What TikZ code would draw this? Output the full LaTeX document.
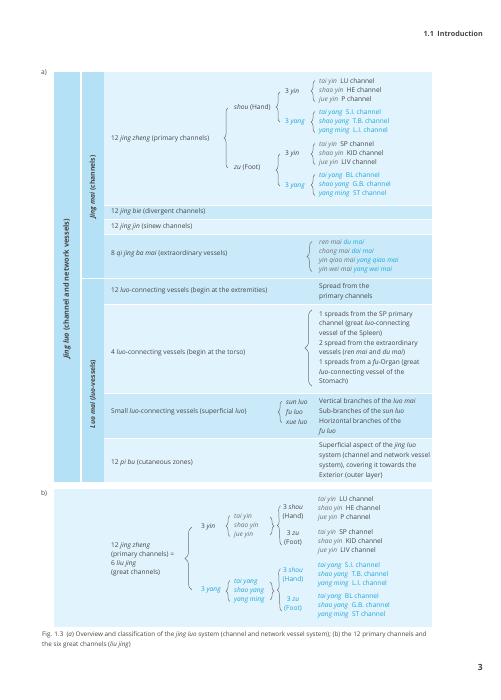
\documentclass[tikz,border=0pt]{standalone}
\usepackage{fontspec}
\setmainfont{Open Sans}
\usepackage{xcolor}
\usetikzlibrary{decorations.pathreplacing, positioning}
\definecolor{inkgray}{HTML}{454545}
\definecolor{namegray}{HTML}{707070}
\definecolor{yangblue}{HTML}{1FA6D8}
\definecolor{colbg}{HTML}{B5E1F6}
\definecolor{rowdark}{HTML}{CAEAF9}
\definecolor{rowlight}{HTML}{E1F3FC}
\newcommand{\chname}[1]{\textcolor{namegray}{\textit{#1}}}

\begin{document}
\begin{tikzpicture}[x=1pt, y=-1pt, every node/.style={inner sep=1pt, text=inkgray, font=\fontsize{6.6}{9}\selectfont}]
    \tikzstyle{txt} = [anchor=west]
    \tikzstyle{lst} = [anchor=west, align=left]
    \tikzstyle{desc} = [anchor=west, align=left, font=\fontsize{6.6}{9.7}\selectfont]
    \tikzstyle{yang} = [text=yangblue]
    \tikzstyle{side} = [rotate=90, font=\bfseries\fontsize{6.8}{8}\selectfont]
    \tikzstyle{brc} = [draw=namegray, line width=0.5pt, decorate, decoration={brace, amplitude=4pt}]
    \tikzstyle{sep} = [draw=white, line width=0.6pt]

    \useasboundingbox (0,0) rectangle (500,700);

    \node [anchor=east, font=\bfseries\fontsize{7.2}{9}\selectfont] (head) at (484,34) {1.1\enspace Introduction};

    % (a) table
    \node [txt] (lbla) at (40,73) {a)};
    \fill [colbg] (54,72) rectangle (80,482);
    \fill [colbg] (81.5,72) rectangle (104,482);
    \foreach \ya/\yb/\rowc in {72/205/rowlight, 205/219/rowdark, 219/234/rowlight, 234/278.5/rowdark,
                               278.5/304/rowdark, 304/393/rowlight, 393/438/rowdark, 438/482/rowlight}
        \fill [\rowc] (104,\ya) rectangle (432,\yb);
    \foreach \y in {205,219,234,304,393,438}
        \draw [sep] (104,\y) -- (432,\y);
    \draw [sep, line width=1.3pt] (81.5,278.5) -- (432,278.5);
    \draw [sep, line width=1.5pt] (80.75,72) -- (80.75,482);

    \node [side, font=\bfseries\fontsize{7.4}{8}\selectfont] (jingluo) at (67,289) {\textit{Jing luo} (channel and network vessels)};
    \node [side] (jingmai) at (93,187) {\textit{Jing mai} (channels)};
    \node [side] (luomai) at (93,394) {\textit{Luo mai} (\textit{luo}-vessels)};

    \node [txt] (zheng) at (110,139) {12 \textit{jing zheng} (primary channels)};
    \node [txt] (shou) at (233,108) {\textit{shou} (Hand)};
    \node [txt] (zu) at (233,168) {\textit{zu} (Foot)};
    \node [txt] (shouyin) at (284,92) {3 \textit{yin}};
    \node [txt, yang] (shouyang) at (284,122) {3 \textit{yang}};
    \node [txt] (zuyin) at (284,154) {3 \textit{yin}};
    \node [txt, yang] (zuyang) at (284,186) {3 \textit{yang}};
    \node [lst] (shouyinl) at (318,91) {\chname{tai yin}\enspace LU channel\\\chname{shao yin}\enspace HE channel\\\chname{jue yin}\enspace P channel};
    \node [lst, yang] (shouyangl) at (318,122) {\textit{tai yang}\enspace S.I. channel\\\textit{shao yang}\enspace T.B. channel\\\textit{yang ming}\enspace L.I. channel};
    \node [lst] (zuyinl) at (318,154) {\chname{tai yin}\enspace SP channel\\\chname{shao yin}\enspace KID channel\\\chname{jue yin}\enspace LIV channel};
    \node [lst, yang] (zuyangl) at (318,185) {\textit{tai yang}\enspace BL channel\\\textit{shao yang}\enspace G.B. channel\\\textit{yang ming}\enspace ST channel};

    \draw [brc] ([xshift=-5pt]zu.west) -- ([xshift=-5pt]shou.west);
    \draw [brc] ([xshift=-4pt]shouyang.west) -- ([xshift=-4pt]shouyin.west);
    \draw [brc] ([xshift=-4pt]zuyang.west) -- ([xshift=-4pt]zuyin.west);
    \foreach \n in {shouyinl, shouyangl, zuyinl, zuyangl}
        \draw [brc] ([xshift=-3pt, yshift=3pt]\n.south west) -- ([xshift=-3pt, yshift=-3pt]\n.north west);

    \node [txt] (bie) at (110,212) {12 \textit{jing bie} (divergent channels)};
    \node [txt] (jin) at (110,226.5) {12 \textit{jing jin} (sinew channels)};

    \node [txt] (qijing) at (110,254) {8 \textit{qi jing ba mai} (extraordinary vessels)};
    \node [lst] (qijingl) at (318,256.5) {\chname{ren mai} \textcolor{yangblue}{\textit{du mai}}\\\chname{chong mai} \textcolor{yangblue}{\textit{dai mai}}\\\chname{yin qiao mai} \textcolor{yangblue}{\textit{yang qiao mai}}\\\chname{yin wei mai} \textcolor{yangblue}{\textit{yang wei mai}}};
    \draw [brc, decoration={amplitude=5pt}] ([xshift=-6pt, yshift=3pt]qijingl.south west) -- ([xshift=-6pt, yshift=-3pt]qijingl.north west);

    \node [txt] (luoext) at (110,291) {12 \textit{luo}-connecting vessels (begin at the extremities)};
    \node [desc] (luoextd) at (318,291.5) {Spread from the\\primary channels};

    \node [txt] (luotorso) at (110,353) {4 \textit{luo}-connecting vessels (begin at the torso)};
    \node [desc] (luotorsod) at (318,348) {1 spreads from the SP primary\\channel (great \textit{luo}-connecting\\vessel of the Spleen)\\2 spread from the extraordinary\\vessels (\textit{ren mai} and \textit{du mai})\\1 spreads from a \textit{fu}-Organ (great\\\textit{luo}-connecting vessel of the\\Stomach)};
    \draw [brc, decoration={amplitude=7pt}] ([xshift=-6pt]luotorsod.south west) -- ([xshift=-6pt]luotorsod.north west);

    \node [txt] (small) at (110,412) {Small \textit{luo}-connecting vessels (superficial \textit{luo})};
    \node [lst, font=\fontsize{6.6}{10}\selectfont] (smalll) at (285,412) {\textit{sun luo}\\\textit{fu luo}\\\textit{xue luo}};
    \node [desc, font=\fontsize{6.6}{10}\selectfont] (smalld) at (318,417) {Vertical branches of the \textit{luo mai}\\Sub-branches of the \textit{sun luo}\\Horizontal branches of the\\\textit{fu luo}};
    \draw [brc] ([xshift=-3pt, yshift=3pt]smalll.south west) -- ([xshift=-3pt, yshift=-3pt]smalll.north west);

    \node [txt] (pibu) at (110,463) {12 \textit{pi bu} (cutaneous zones)};
    \node [desc, font=\fontsize{6.6}{10}\selectfont] (pibud) at (318,461) {Superficial aspect of the \textit{jing luo}\\system (channel and network vessel\\system), covering it towards the\\Exterior (outer layer)};

    % (b) the twelve primary channels
    \node [txt] (lblb) at (40,494) {b)};
    \fill [rowlight] (54,489) rectangle (432,627);

    \node [lst] (bzheng) at (110,559.5) {12 \textit{jing zheng}\\(primary channels) =\\6 \textit{liu jing}\\(great channels)};
    \node [txt] (byin) at (200,527) {3 \textit{yin}};
    \node [txt, yang] (byang) at (200,590) {3 \textit{yang}};
    \draw [brc, decoration={amplitude=7pt}] ([xshift=-8pt]byang.west) -- ([xshift=-8pt]byin.west);

    \node [lst] (byinl) at (233,526) {\chname{tai yin}\\\chname{shao yin}\\\chname{jue yin}};
    \node [lst, yang] (byangl) at (233,591) {\textit{tai yang}\\\textit{shao yang}\\\textit{yang ming}};
    \node [align=center] (byinh) at (293,512.5) {3 \textit{shou}\\(Hand)};
    \node [align=center] (byinf) at (293,538.5) {3 \textit{zu}\\(Foot)};
    \node [align=center, yang] (byangh) at (293,575.5) {3 \textit{shou}\\(Hand)};
    \node [align=center, yang] (byangf) at (293,604.5) {3 \textit{zu}\\(Foot)};

    \node [lst] (bl1) at (317,509) {\chname{tai yin}\enspace LU channel\\\chname{shao yin}\enspace HE channel\\\chname{jue yin}\enspace P channel};
    \node [lst] (bl2) at (317,542) {\chname{tai yin}\enspace SP channel\\\chname{shao yin}\enspace KID channel\\\chname{jue yin}\enspace LIV channel};
    \node [lst, yang] (bl3) at (317,575) {\textit{tai yang}\enspace S.I. channel\\\textit{shao yang}\enspace T.B. channel\\\textit{yang ming}\enspace L.I. channel};
    \node [lst, yang] (bl4) at (317,606) {\textit{tai yang}\enspace BL channel\\\textit{shao yang}\enspace G.B. channel\\\textit{yang ming}\enspace ST channel};

    \foreach \n in {byinl, byangl}
        \draw [brc] ([xshift=-3pt, yshift=3pt]\n.south west) -- ([xshift=-3pt, yshift=-3pt]\n.north west);
    \draw [brc] (270,517) -- (270,535);
    \draw [brc] (270,582) -- (270,600);
    \draw [brc] ([xshift=-1pt, yshift=2pt]byinf.south west) -- ([xshift=-1pt, yshift=-2pt]byinh.north west);
    \draw [brc] ([xshift=-1pt, yshift=2pt]byangf.south west) -- ([xshift=-1pt, yshift=-2pt]byangh.north west);

    \node [anchor=north west, align=left, font=\fontsize{6.35}{10}\selectfont] (caption) at (41,630) {Fig. 1.3\enspace(\textit{a}) Overview and classification of the \textit{jing luo} system (channel and network vessel system); (b) the 12 primary channels and\\the six great channels (\textit{liu jing})};
    \node [anchor=east, font=\bfseries\fontsize{8.5}{10}\selectfont] (pgno) at (484,667) {3};
\end{tikzpicture}
\end{document}
